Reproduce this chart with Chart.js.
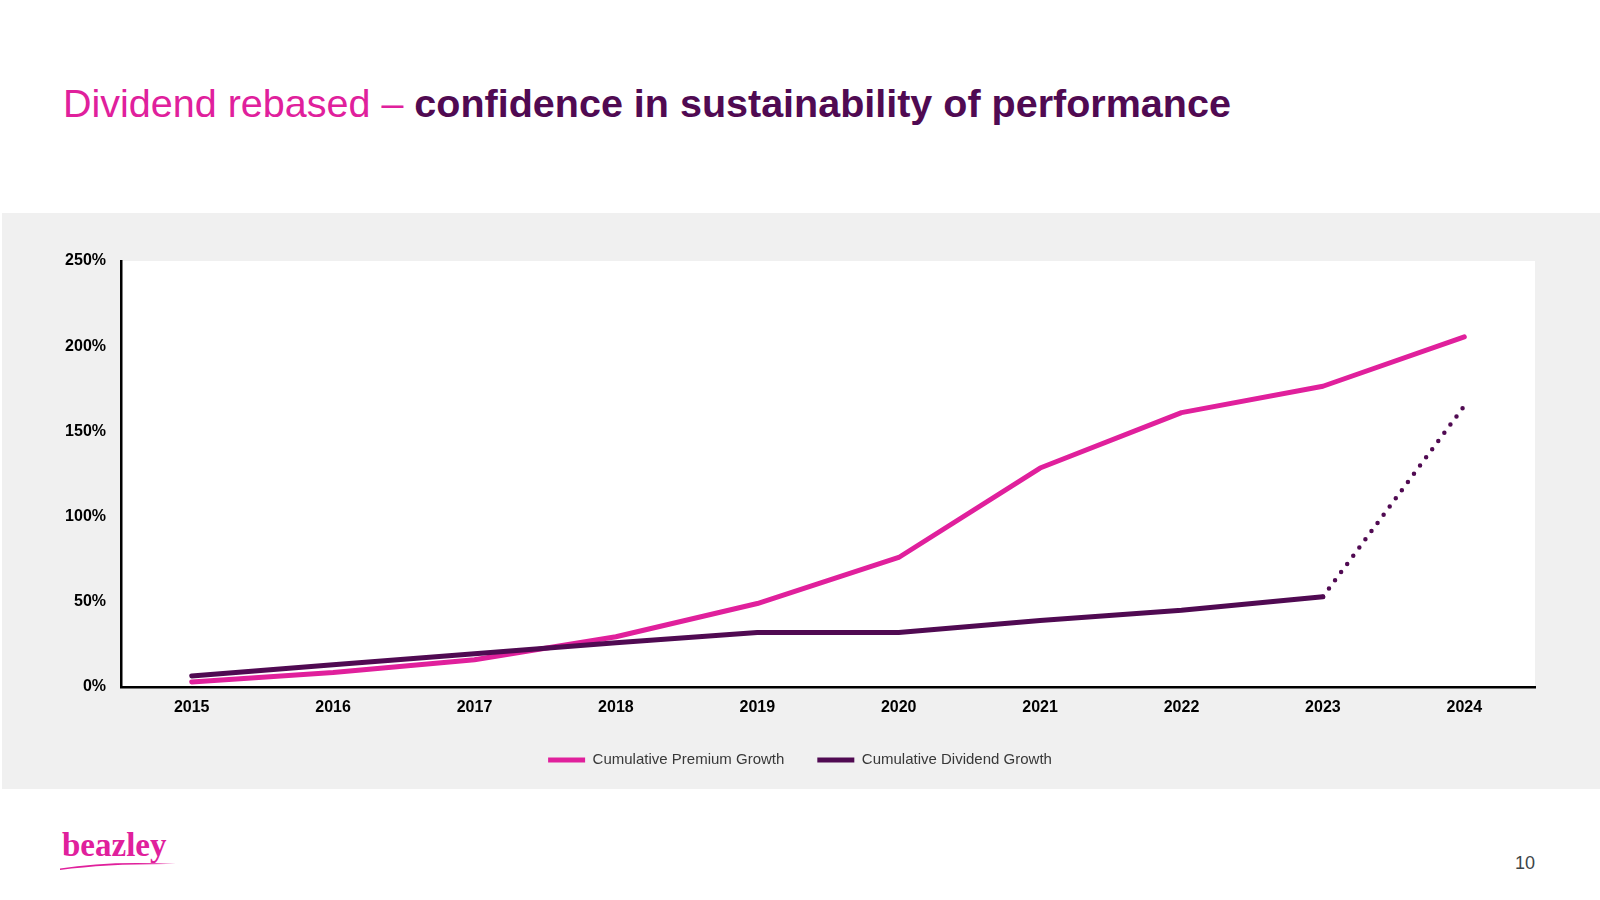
<!DOCTYPE html>
<html>
<head>
<meta charset="utf-8">
<script src="https://cdn.jsdelivr.net/npm/chart.js@4.4.0/dist/chart.umd.min.js"></script>
<style>
  html, body { margin: 0; padding: 0; background: #ffffff; }
  body { width: 1600px; height: 900px; position: relative; overflow: hidden; font-family: "Liberation Sans", Arial, sans-serif; }
  #title { position: absolute; left: 63px; top: 84px; font-size: 39.5px; line-height: 1; white-space: nowrap; }
  #title .a { color: #E0209C; font-weight: normal; }
  #title .b { color: #500A52; font-weight: bold; }
  #panel { position: absolute; left: 2px; top: 213px; width: 1598px; height: 576px; background: #F0F0F0; }
  #chart { position: absolute; left: -2px; top: 0; }
  #logo { position: absolute; left: 62px; top: 829px; font-family: "Liberation Serif", "DejaVu Serif", serif; font-size: 33px; font-weight: bold; line-height: 1; color: #E0209C; }
  #swoosh { position: absolute; left: 58px; top: 858px; }
  #page { position: absolute; left: 1515px; top: 854px; font-size: 18px; line-height: 1; color: #3d4548; }
</style>
</head>
<body>
<div id="title"><span class="a">Dividend rebased – </span><span class="b">confidence in sustainability of performance</span></div>
<div id="panel"><canvas id="chart" width="1600" height="576"></canvas></div>
<div id="logo">beazley</div>
<svg id="swoosh" width="120" height="14" viewBox="0 0 120 14">
  <path d="M2 10.5 Q 50 2.5 118 6 Q 50 5.5 2 12 Z" fill="#E0209C"/>
</svg>
<div id="page">10</div>
<script>
const categories = ['2015', '2016', '2017', '2018', '2019', '2020', '2021', '2022', '2023', '2024'];
const premiumGrowth = [3, 8.5, 16, 29.5, 49, 76, 128.5, 161, 176.5, 205.5];
const dividendGrowth = [6.5, 13, 19.5, 26, 32, 32, 39, 45, 53, 165];
const yTicks = [0, 50, 100, 150, 200, 250];
const seriesNames = ['Cumulative Premium Growth', 'Cumulative Dividend Growth'];

const PINK = '#E0209C';
const PURPLE = '#500A52';

const plotBg = {
  id: 'plotBg',
  beforeDraw(chart) {
    const {ctx, chartArea: a} = chart;
    ctx.save();
    ctx.fillStyle = '#ffffff';
    ctx.fillRect(a.left, a.top, a.right - a.left, a.bottom - a.top);
    ctx.restore();
  }
};

new Chart(document.getElementById('chart'), {
  type: 'line',
  data: {
    labels: categories,
    datasets: [
      {
        label: seriesNames[0],
        data: premiumGrowth,
        borderColor: PINK,
        backgroundColor: PINK,
        borderWidth: 5,
        borderCapStyle: 'round',
        borderJoinStyle: 'round',
        pointRadius: 0,
        tension: 0,
        order: 2
      },
      {
        label: seriesNames[1],
        data: dividendGrowth,
        borderColor: PURPLE,
        backgroundColor: PURPLE,
        borderWidth: 5,
        borderCapStyle: 'round',
        borderJoinStyle: 'round',
        pointRadius: 0,
        tension: 0,
        order: 1,
        segment: {
          borderDash: c => c.p1DataIndex === categories.length - 1 ? [0, 10.2] : undefined,
          borderWidth: c => c.p1DataIndex === categories.length - 1 ? 4.5 : undefined
        }
      }
    ]
  },
  options: {
    responsive: false,
    animation: false,
    devicePixelRatio: 1,
    layout: { padding: { left: 65, right: 65, top: 48, bottom: 11.5 } },
    plugins: {
      tooltip: { enabled: false },
      legend: {
        position: 'bottom',
        labels: {
          usePointStyle: true,
          pointStyle: 'line',
          pointStyleWidth: 37,
          padding: 33,
          color: '#383838',
          font: { family: '"Liberation Sans", Arial, sans-serif', size: 15 },
          sort: (a, b) => a.datasetIndex - b.datasetIndex
        }
      }
    },
    scales: {
      x: {
        type: 'category',
        offset: true,
        grid: { display: false, drawTicks: false },
        border: { display: true, color: '#000000', width: 2.5 },
        ticks: {
          padding: 11,
          color: '#000000',
          font: { family: '"Liberation Sans", Arial, sans-serif', size: 16, weight: 'bold' }
        },
        afterFit: s => { s.height = 32.5; }
      },
      y: {
        min: 0,
        max: 250,
        grid: { display: false, drawTicks: false },
        border: { display: true, color: '#000000', width: 2.5 },
        afterBuildTicks: s => { s.ticks = yTicks.map(v => ({ value: v })); },
        ticks: {
          padding: 15,
          color: '#000000',
          font: { family: '"Liberation Sans", Arial, sans-serif', size: 16, weight: 'bold' },
          callback: v => v + '%'
        },
        afterFit: s => { s.width = 56; }
      }
    }
  },
  plugins: [plotBg]
});
</script>
</body>
</html>
